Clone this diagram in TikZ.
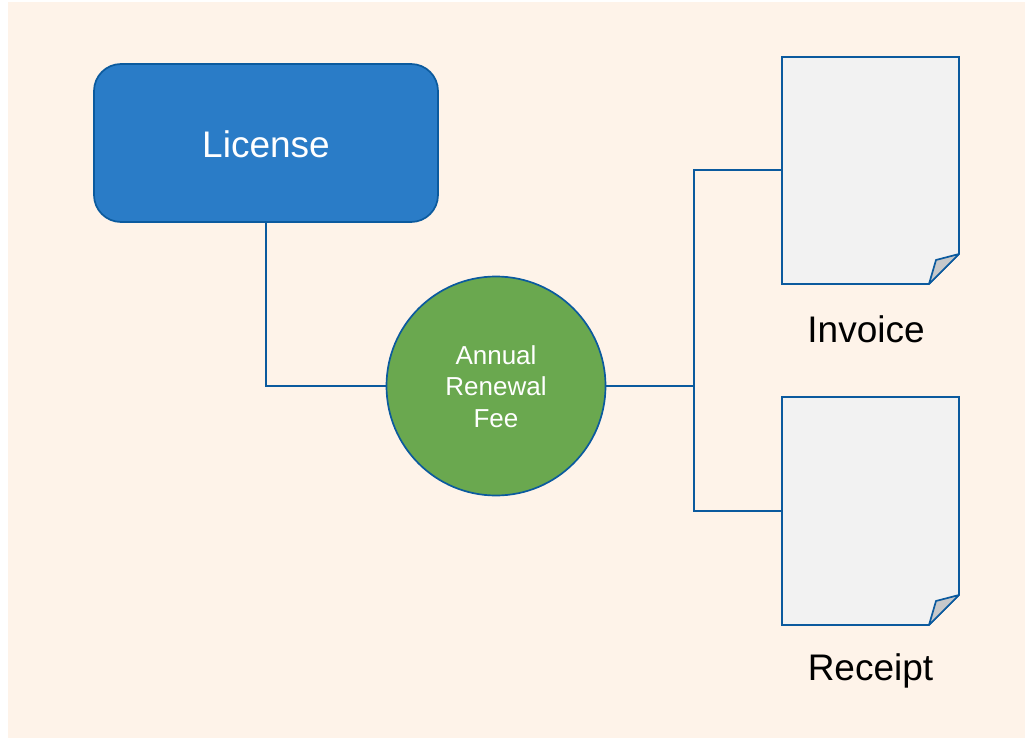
\documentclass[tikz,border=0pt]{standalone}
\usepackage{fontspec}
\setmainfont{Liberation Sans}
\definecolor{bgc}{HTML}{FEF3E9}
\definecolor{linec}{HTML}{0B5A9E}
\definecolor{boxc}{HTML}{2A7CC7}
\definecolor{circc}{HTML}{6AA84F}
\definecolor{docc}{HTML}{F2F2F2}
\definecolor{foldc}{HTML}{C6C8CA}
\tikzset{
  wire/.style={draw=linec,line width=1.5pt},
  docshape/.style={draw=linec,line width=1.7pt,fill=docc,line join=miter},
  foldshape/.style={draw=linec,line width=1.7pt,fill=foldc,line join=round},
  bigtext/.style={font=\fontsize{37}{44}\selectfont,text=black},
}
\newcommand{\lowerby}[2]{\raisebox{-#1}[\height][\depth]{#2}}
\begin{document}
\begin{tikzpicture}[x=1pt,y=-1pt]
\useasboundingbox (0,0) rectangle (1028,738);
\fill[bgc] (8,2) rectangle (1025,738);
\coordinate (docA) at (782,170);
\coordinate (docB) at (782,511);
\coordinate (jn) at (694,386);
\node[draw=linec,line width=1.7pt,fill=boxc,rounded corners=27pt,minimum width=344pt,minimum height=158pt,text=white,font=\fontsize{37}{44}\selectfont,inner sep=0pt] (lic) at (266,143) {\lowerby{1pt}{License}};
\node[circle,draw=linec,line width=1.7pt,fill=circc,minimum size=219pt,inner sep=0pt,text=white,align=center,font=\fontsize{26}{32}\selectfont] (fee) at (496,386) {\lowerby{1pt}{Annual}\\\lowerby{0.5pt}{Renewal}\\\lowerby{0.5pt}{Fee}};
\draw[wire] (lic.south) |- (fee.west);
\draw[wire] (fee.east) -- (jn);
\draw[wire] (jn) |- (docA);
\draw[wire] (jn) |- (docB);
\draw[docshape] (782,57) -- (959,57) -- (959,254) -- (929,284) -- (782,284) -- cycle;
\draw[foldshape] (929,284) -- (936,260) -- (959,254) -- cycle;
\node[bigtext] (inv) at (866,329) {Invoice};
\draw[docshape] (782,397) -- (959,397) -- (959,595) -- (929,625) -- (782,625) -- cycle;
\draw[foldshape] (929,625) -- (936,601) -- (959,595) -- cycle;
\node[bigtext] (rec) at (870.5,671) {Receipt};
\end{tikzpicture}
\end{document}
